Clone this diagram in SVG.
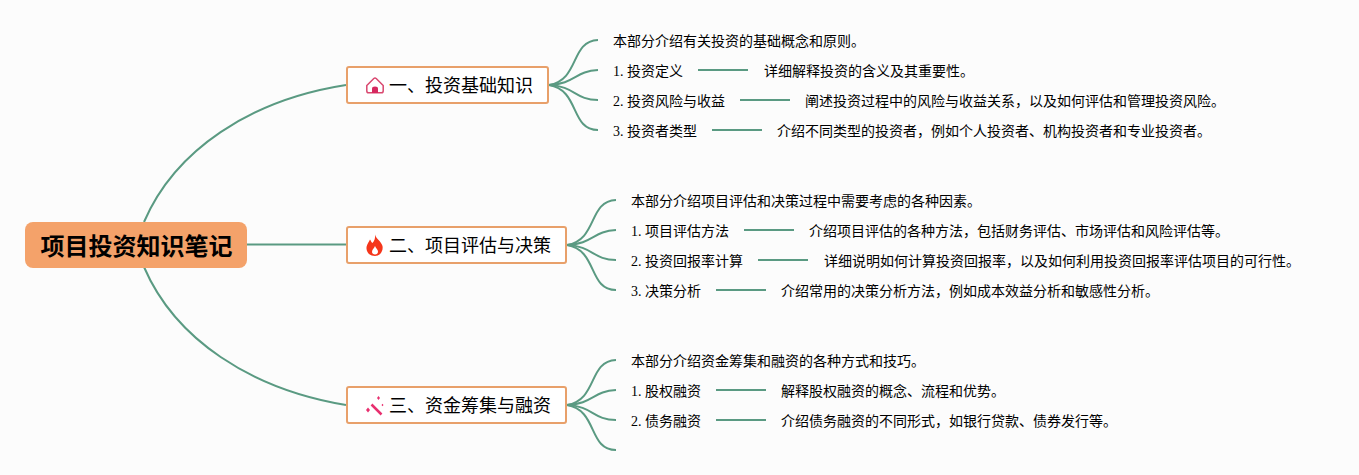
<svg xmlns="http://www.w3.org/2000/svg" width="1359" height="475" viewBox="0 0 1359 475">
<style>
text{font-family:"Liberation Serif","Noto Sans CJK SC",serif;fill:#000}
.l{font-size:14px}
.b{font-size:18px}
.r{font-size:24px;font-weight:bold}
.c path,.c line{fill:none;stroke:#5a9a82;stroke-width:2}
.n{fill:#fff;stroke:#e8a06a;stroke-width:2}
</style>
<rect width="1359" height="475" fill="#fcfcfc"/>
<g id="connectors" class="c">
<path d="M144 222C175 150 250 100 346 85"/>
<path d="M246 244.500H346"/>
<path d="M144 267C175 339 250 389 346 405"/>
<path d="M549 85C580 80 570 41 598 40"/>
<path d="M549 85C575 84 575 71 598 70"/>
<path d="M549 85C575 86 575 100 598 100"/>
<path d="M549 85C580 90 570 130 598 130"/>
<path d="M567 245C598 240 588 201 616 200"/>
<path d="M567 245C593 244 593 231 616 230"/>
<path d="M567 245C593 246 593 260 616 260"/>
<path d="M567 245C598 250 588 290 616 290"/>
<path d="M567 405C598 400 588 361 616 360"/>
<path d="M567 405C593 404 593 391 616 390"/>
<path d="M567 405C593 406 593 420 616 420"/>
<path d="M567 405C598 410 588 450 616 450"/>
<line x1="698" y1="70" x2="748" y2="70"/>
<line x1="740" y1="100" x2="790" y2="100"/>
<line x1="712" y1="130" x2="762" y2="130"/>
<line x1="744" y1="230" x2="794" y2="230"/>
<line x1="758" y1="260" x2="808" y2="260"/>
<line x1="716" y1="290" x2="766" y2="290"/>
<line x1="716" y1="390" x2="766" y2="390"/>
<line x1="716" y1="420" x2="766" y2="420"/>
</g>
<g id="root"><rect x="25" y="222" width="222" height="46" rx="8" fill="#f4a26a"/><text class="r" x="40.500" y="255">项目投资知识笔记</text></g>
<g id="branch1"><rect class="n" x="347" y="67" width="201" height="36" rx="2"/>
<path d="M366.800 85.500L373.800 78.500Q375 77.500 376.200 78.500L383.200 85.500V91Q383.200 92.800 381.400 92.800H368.600Q366.800 92.800 366.800 91Z" fill="none" stroke="#d9476f" stroke-width="1.500"/><path d="M372 93V88.500Q372 86.500 375 86.500Q378 86.500 378 88.500V93Z" fill="#d6285f"/>
<text class="b" x="389" y="92">一、投资基础知识</text></g>
<g id="branch2"><rect class="n" x="347" y="227" width="219" height="36" rx="2"/>
<path fill-rule="evenodd" d="M375 234.500C376 239 381 241 382.500 246C383.500 251 380 256 375 256C369.500 256 366 252 366.500 247C367 244 369 242 370 239.500C371 241 371.500 242.500 372.500 243C374.500 241 375.500 238 375 234.500ZM375 246C374 248.500 372 249.500 372 252C372 253.500 373.500 254.500 375 254.500C376.800 254.500 378 253.300 378 251.800C378 249.500 376 248.500 375 246Z" fill="#f5361b"/>
<text class="b" x="389" y="252">二、项目评估与决策</text></g>
<g id="branch3"><rect class="n" x="347" y="387" width="219" height="36" rx="2"/>
<path d="M371.500 404.500L381.500 414.500" fill="none" stroke="#e8306f" stroke-width="2.500"/><path d="M378.500 396L380 398L378.500 400L377 398ZM368 407.500L370 410L368 412.500L366 410ZM382.500 403.800L383.500 405L382.500 406.200L381.500 405Z" fill="#e8306f"/>
<text class="b" x="389" y="412">三、资金筹集与融资</text></g>
<g id="t10"><text class="l" x="613" y="46">本部分介绍有关投资的基础概念和原则。</text></g>
<g id="t11"><text class="l" x="613" y="76">1. 投资定义</text></g>
<g id="t11d"><text class="l" x="764" y="76">详细解释投资的含义及其重要性。</text></g>
<g id="t12"><text class="l" x="613" y="106">2. 投资风险与收益</text></g>
<g id="t12d"><text class="l" x="805" y="106">阐述投资过程中的风险与收益关系，以及如何评估和管理投资风险。</text></g>
<g id="t13"><text class="l" x="613" y="136">3. 投资者类型</text></g>
<g id="t13d"><text class="l" x="777" y="136">介绍不同类型的投资者，例如个人投资者、机构投资者和专业投资者。</text></g>
<g id="t20"><text class="l" x="631" y="206">本部分介绍项目评估和决策过程中需要考虑的各种因素。</text></g>
<g id="t21"><text class="l" x="631" y="236">1. 项目评估方法</text></g>
<g id="t21d"><text class="l" x="809" y="236">介绍项目评估的各种方法，包括财务评估、市场评估和风险评估等。</text></g>
<g id="t22"><text class="l" x="631" y="266">2. 投资回报率计算</text></g>
<g id="t22d"><text class="l" x="824" y="266">详细说明如何计算投资回报率，以及如何利用投资回报率评估项目的可行性。</text></g>
<g id="t23"><text class="l" x="631" y="296">3. 决策分析</text></g>
<g id="t23d"><text class="l" x="781" y="296">介绍常用的决策分析方法，例如成本效益分析和敏感性分析。</text></g>
<g id="t30"><text class="l" x="631" y="366">本部分介绍资金筹集和融资的各种方式和技巧。</text></g>
<g id="t31"><text class="l" x="631" y="396">1. 股权融资</text></g>
<g id="t31d"><text class="l" x="781" y="396">解释股权融资的概念、流程和优势。</text></g>
<g id="t32"><text class="l" x="631" y="426">2. 债务融资</text></g>
<g id="t32d"><text class="l" x="781" y="426">介绍债务融资的不同形式，如银行贷款、债券发行等。</text></g>
</svg>
